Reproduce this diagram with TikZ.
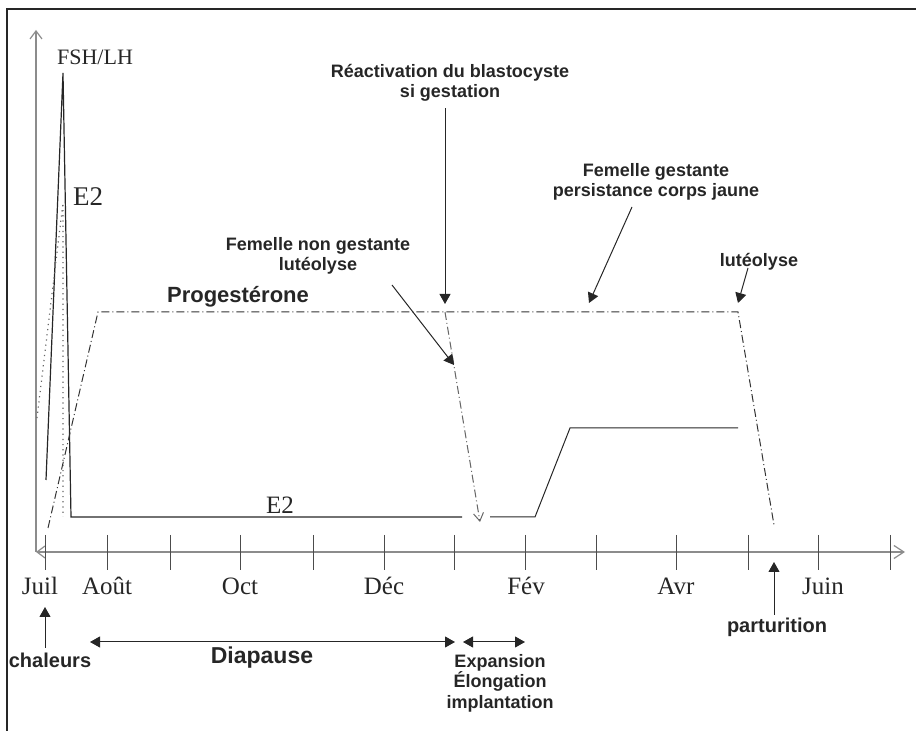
\documentclass[tikz,border=0pt]{standalone}
\usepackage{fontspec}
\setmainfont{Liberation Serif}
\setsansfont{Liberation Sans}
\usepackage{tikz}
\usetikzlibrary{positioning}
\usetikzlibrary{arrows.meta}
\tikzset{etiq/.style={font=\sffamily\bfseries\fontsize{9}{10.3}\selectfont, align=center, text=black!85, inner sep=0pt}}
\tikzset{grande/.style={font=\sffamily\bfseries\fontsize{11.5}{13}\selectfont, text=black!85, inner sep=0pt}}
\tikzset{mois/.style={font=\fontsize{12.5}{14}\selectfont, text=black!85, inner sep=0pt}}
\tikzset{fleche/.style={line width=0.5pt, black!85, -{Triangle[length=5pt,width=5.5pt]}}}
\tikzset{fleches/.style={line width=0.5pt, black!85, {Triangle[length=5pt,width=5.5pt]}-{Triangle[length=5pt,width=5.5pt]}}}
\tikzset{axe/.style={line width=0.6pt, black!45}}
\tikzset{proges/.style={line width=0.5pt, black!80, dash pattern=on 4pt off 1.5pt on 0.5pt off 1.5pt}}

\begin{document}
\begin{tikzpicture}[x=0.5pt,y=-0.5pt]
\useasboundingbox (0,0) rectangle (916,731);
\draw[line width=1pt, black!85] (7,731) -- (7,9) -- (916,9);
% axes
\coordinate (O) at (36,552);
\coordinate (xfin) at (905,552);
\coordinate (yfin) at (36,30);
\draw[axe, {Straight Barb[length=4pt,width=6pt]}-{Straight Barb[length=5pt,width=6.5pt]}] (O) -- (xfin);
\draw[axe, -{Straight Barb[length=4pt,width=6pt]}] (O) -- (yfin);
\foreach \x [count=\i] in {45,107,170,240,313,384,454,525,596,676,748,818,890} {
\coordinate (t\i) at (\x,552);
\draw[black!70, line width=0.5pt] (\x,535) -- (\x,570);
}
\foreach \x/\m [count=\i] in {40/Juil,107/Août,240/Oct,384/Déc,526/Fév,676/Avr,823/Juin} {
\node[mois, anchor=base] (mois\i) at (\x,595) {\m};
}
% FSH/LH et E2
\draw[line width=0.6pt, black!85] (46,480) -- (63,73) -- (71,517) -- (462,517);
\draw[line width=0.5pt, black!85] (490,517) -- (535,517) -- (570,428) -- (738,428);
\draw[black!60, dotted, line width=0.6pt] (37,418) -- (63,203) -- (63,517);
\node[mois, font=\fontsize{11}{13}\selectfont, anchor=base] (fsh) at (95,65) {FSH/LH};
\node[mois, font=\fontsize{13.5}{15}\selectfont, anchor=base] (e2haut) at (88,206) {E2};
\node[mois, anchor=base] (e2bas) at (280,514) {E2};
% progesterone
\draw[proges] (48,528) -- (98,312) -- (738,312) -- (774,525);
\draw[proges, black!60, -{Straight Barb[length=4pt,width=5pt]}] (445,312) -- (480,522);
\node[grande, font=\sffamily\bfseries\fontsize{11}{13}\selectfont] (prog) at (238,297) {Progestérone};
% etiquettes du haut
\node[etiq] (reac) at (450,83) {Réactivation du blastocyste\\si gestation};
\node[etiq] (femng) at (318,256) {Femelle non gestante\\lutéolyse};
\node[etiq] (femg) at (656,182) {Femelle gestante\\persistance corps jaune};
\node[etiq] (lut) at (759,262) {lutéolyse};
\coordinate (pReac) at (445,304);
\coordinate (aNG) at (392,285);
\coordinate (pNG) at (454,365);
\coordinate (aG) at (632,207);
\coordinate (pG) at (589,303);
\coordinate (aLut) at (748,268);
\coordinate (pLut) at (738,303);
\draw[fleche, shorten <=3pt] (reac.south -| pReac) -- (pReac);
\draw[fleche] (aNG) -- (pNG);
\draw[fleche] (aG) -- (pG);
\draw[fleche] (aLut) -- (pLut);
% etiquettes du bas
\node[grande, font=\sffamily\bfseries\fontsize{10}{12}\selectfont] (chal) at (50,660) {chaleurs};
\node[grande] (diap) at (262,658) {Diapause};
\node[etiq] (expa) at (500,683) {Expansion\\Élongation\\implantation};
\node[grande, font=\sffamily\bfseries\fontsize{10}{12}\selectfont] (part) at (777,627) {parturition};
\coordinate (aChal) at (45,648);
\coordinate (pChal) at (45,607);
\coordinate (aPart) at (774,615);
\coordinate (pPart) at (774,562);
\coordinate (dDiap) at (90,642);
\coordinate (fDiap) at (455,642);
\coordinate (dExpa) at (463,642);
\coordinate (fExpa) at (525,642);
\draw[fleche] (aChal) -- (pChal);
\draw[fleche] (aPart) -- (pPart);
\draw[fleches] (dDiap) -- (fDiap);
\draw[fleches] (dExpa) -- (fExpa);
\end{tikzpicture}
\end{document}
